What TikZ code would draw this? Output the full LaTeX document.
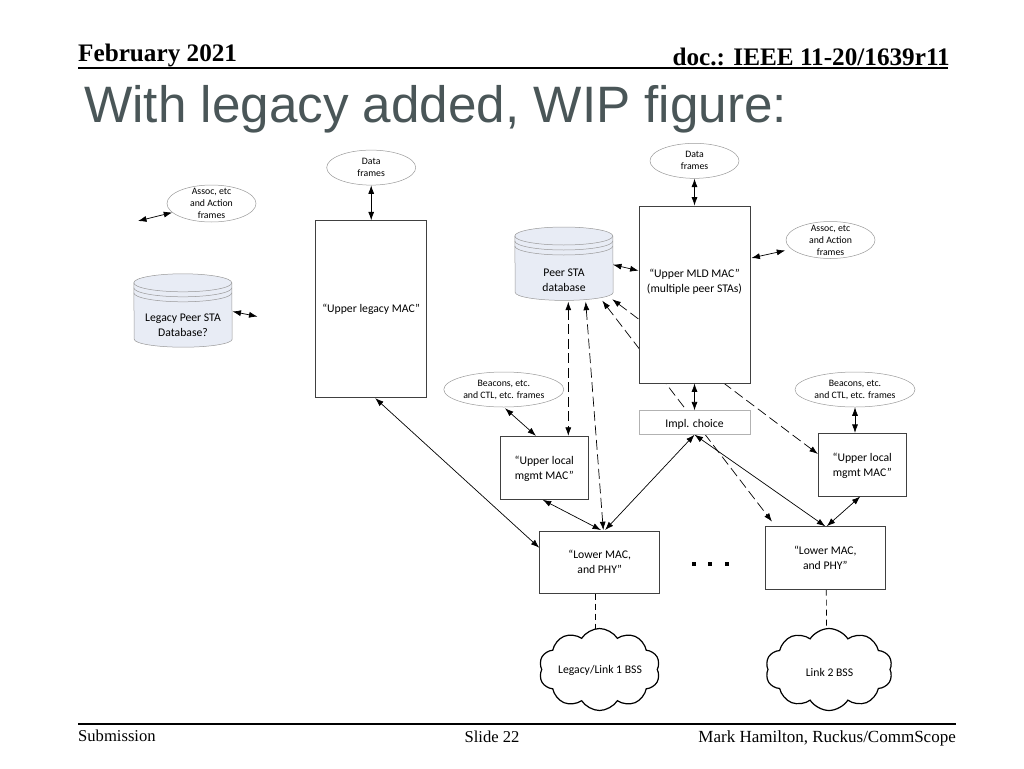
\documentclass[tikz,border=0pt]{standalone}
\usepackage{fontspec}
\setmainfont{Liberation Serif}
\newfontfamily\titlefont{Liberation Sans}
\newfontfamily\figfont{Carlito}
\usetikzlibrary{arrows.meta,positioning,shapes.geometric,shapes.symbols,backgrounds}
\definecolor{titlegray}{HTML}{4A5658}
\definecolor{dbfill}{HTML}{E8ECF5}
\tikzset{
    %Define standard arrow tip
    >={Latex[length=8.5pt,width=6pt]},
    %Define style for boxes
    macbox/.style={
           rectangle,
           draw=black!75,
           fill=white,
           line width=0.8pt,
           inner sep=0pt,
           align=center,
           font=\figfont\fontsize{11.7}{15}\selectfont},
    %Define style for frame ellipses
    frames/.style={
           ellipse,
           draw=black!40,
           line width=0.5pt,
           inner sep=-8pt,
           minimum width=89pt,
           minimum height=35pt,
           align=center,
           font=\figfont\fontsize{9.8}{12}\selectfont},
    %Define style for databases
    peerdb/.style={
           rectangle,
           inner sep=0pt,
           minimum width=98pt,
           minimum height=73pt},
    dbline/.style={
           draw=black!40,
           line width=0.5pt},
    bss/.style={
           cloud,
           cloud puffs=10,
           cloud puff arc=115,
           aspect=1.5,
           draw=black,
           fill=white,
           line width=1.2pt,
           inner sep=0pt,
           minimum width=121pt,
           minimum height=82pt},
    figlabel/.style={
           inner sep=0pt,
           align=center,
           font=\figfont\fontsize{11.7}{15}\selectfont},
    % Define arrow styles
    pil/.style={<->,line width=0.7pt},
    dpil/.style={<->,line width=0.7pt,dash pattern=on 10pt off 4.5pt},
    tie/.style={line width=0.7pt,dash pattern=on 6pt off 4pt},
    rule/.style={line width=1.2pt,black}
}
\newcommand{\dbbody}[1]{
  \path[dbline,fill=dbfill] ([yshift=-9pt]#1.north west) arc[start angle=180,end angle=0,x radius=49pt,y radius=9pt]
    -- ([yshift=8pt]#1.south east) arc[start angle=0,end angle=-180,x radius=49pt,y radius=8pt] -- cycle;
  \foreach \rim in {9,14,19}
    \draw[dbline] ([yshift=-\rim pt]#1.north west) arc[start angle=180,end angle=360,x radius=49pt,y radius=9pt];
}
\begin{document}
\begin{tikzpicture}[x=1pt,y=-1pt]
  \useasboundingbox (0,0) rectangle (1024,768);
  % slide frame
  \node[anchor=base west,inner sep=0pt,font=\bfseries\fontsize{25.2}{25}\selectfont] (date) at (78,61) {February 2021};
  \node[anchor=base east,inner sep=0pt,font=\bfseries\fontsize{25.2}{25}\selectfont] (docid) at (950,65) {doc.: IEEE 11-20/1639r11};
  \draw[rule] (78,68) -- (948,68);
  \node[anchor=base west,inner sep=0pt,text=titlegray,font=\titlefont\fontsize{51.2}{52}\selectfont] (title) at (84,122) {With legacy added, WIP figure:};
  \draw[rule] (78,724) -- (956,724);
  \node[anchor=base west,inner sep=0pt,font=\fontsize{16.6}{16}\selectfont] (subm) at (78,741) {Submission};
  \node[anchor=base,inner sep=0pt,font=\fontsize{16.6}{16}\selectfont] (slide) at (492,742) {Slide 22};
  \node[anchor=base east,inner sep=0pt,font=\fontsize{17}{16}\selectfont] (author) at (956,742) {Mark Hamilton, Ruckus/CommScope};

  % MAC boxes
  \node[macbox,minimum width=111pt,minimum height=176.5pt] (upperlegacy) at (371.2,309) {“Upper legacy MAC”};
  \node[macbox,minimum width=111pt,minimum height=177pt] (mld) at (694.5,294.5) {};
  \node[figlabel,yshift=13pt] (mldlabel) at (mld.center) {“Upper MLD MAC”\\(multiple peer STAs)};
  \node[macbox,draw=black!30,minimum width=111pt,minimum height=23.5pt,text height=11pt,below=27pt of mld] (impl) {Impl. choice};
  \node[macbox,minimum width=88pt,minimum height=62.7pt] (localL) at (544.3,467.6) {};
  \node[figlabel] (localLlabel) at (544.3,469) {“Upper local\\mgmt MAC”};
  \node[macbox,minimum width=88pt,minimum height=62.7pt] (localR) at (862.3,464.7) {};
  \node[figlabel] (localRlabel) at (862.3,466) {“Upper local\\mgmt MAC”};
  \node[macbox,minimum width=120pt,minimum height=62pt] (lowerL) at (599.7,562.3) {“Lower MAC,\\and PHY”};
  \node[macbox,minimum width=120pt,minimum height=62.6pt] (lowerR) at (825.3,558) {“Lower MAC,\\and PHY”};

  % frame ellipses
  \node[frames,above=35pt of upperlegacy] (dataL) {Data\\frames};
  \node[frames,above=27pt of mld] (dataR) {Data\\frames};
  \node[frames,minimum height=37pt] (assocL) at (211.5,203.5) {Assoc, etc\\and Action\\frames};
  \node[frames,minimum height=37pt] (assocR) at (830.5,240) {Assoc, etc\\and Action\\frames};
  \node[frames,minimum width=120pt] (beaconL) at (503.8,389.5) {Beacons, etc.\\and CTL, etc. frames};
  \node[frames,minimum width=120pt] (beaconR) at (855,389.5) {Beacons, etc.\\and CTL, etc. frames};

  % databases
  \node[peerdb] (legacydb) at (183,310.5) {};
  \dbbody{legacydb}
  \node[figlabel] (legacydblabel) at (183,325.5) {Legacy Peer STA\\Database?};
  \node[peerdb] (peerdb) at (564,263.7) {};
  \dbbody{peerdb}
  \node[figlabel] (peerdblabel) at (564,280) {Peer STA\\database};

  % clouds
  \node[bss] (bssL) at (599.5,669.5) {};
  \node[figlabel] (bssLlabel) at (600,670.5) {Legacy/Link 1 BSS};
  \node[bss,minimum width=127pt] (bssR) at (829,669.5) {};
  \node[figlabel] (bssRlabel) at (829.5,672.5) {Link 2 BSS};

  % free ends
  \coordinate (assocend) at (138,221);
  \coordinate (dbend) at (257.5,316.5);

  \draw[pil] (dataL) -- (upperlegacy);
  \draw[pil] (dataR) -- (mld);
  \draw[pil] (assocend) -- ([xshift=5.5pt,yshift=-9pt]assocL.west);
  \draw[pil] ([xshift=49.5pt,yshift=-1pt]legacydb.center) -- (dbend);
  \draw[pil] ([xshift=1pt,yshift=36.5pt]mld.east) -- ([xshift=-.5pt,yshift=-10.5pt]assocR.west);
  \draw[pil] ([xshift=49pt,yshift=-1pt]peerdb.center) -- ([yshift=23.8pt]mld.west);
  \draw[pil] (mld) -- (impl);
  \draw[pil] ([xshift=1.2pt,yshift=-1pt]beaconL.south) -- ([xshift=-8.3pt]localL.north);
  \draw[pil] (beaconR) -- ([xshift=-7.3pt]localR.north);
  \draw[pil] ([xshift=-1.6pt,yshift=-.5pt]localL.south) -- ([xshift=1.3pt,yshift=.8pt]lowerL.north);
  \draw[pil] (impl.south) -- ([xshift=5.3pt,yshift=.8pt]lowerL.north);
  \draw[pil] (impl.south) -- (lowerR.north);
  \draw[pil] ([xshift=-2pt]localR.south) -- ([xshift=1.4pt]lowerR.north);
  \draw[pil] ([xshift=4pt,yshift=-.5pt]upperlegacy.south) -- ([yshift=14.5pt]lowerL.west);

  % the dashed ones run behind the boxes
  \begin{pgfonlayer}{background}
    \draw[dpil] ([xshift=48.3pt,yshift=-35.6pt]peerdb.center) -- ([yshift=10.7pt]localR.west);
    \draw[dpil] ([xshift=38.3pt,yshift=-37pt]peerdb.center) -- ([xshift=-53.3pt,yshift=4.7pt]lowerR.north);
    \draw[dpil] ([xshift=4.3pt,yshift=-38pt]peerdb.center) -- ([xshift=24pt]localL.north);
    \draw[dpil] ([xshift=21.7pt,yshift=-38pt]peerdb.center) -- ([xshift=3.6pt,yshift=.7pt]lowerL.north);
    \draw[tie] ([xshift=-4.7pt]lowerL.south) -- ([xshift=-4.5pt,yshift=39.5pt]bssL.center);
    \draw[tie] ([xshift=1pt]lowerR.south) -- ([xshift=-2.5pt,yshift=41.5pt]bssR.center);
  \end{pgfonlayer}

  % three dots
  \foreach \dotx in {694.3,710.3,726.7}
    \fill (\dotx-2,562) rectangle (\dotx+2,566);
\end{tikzpicture}
\end{document}
